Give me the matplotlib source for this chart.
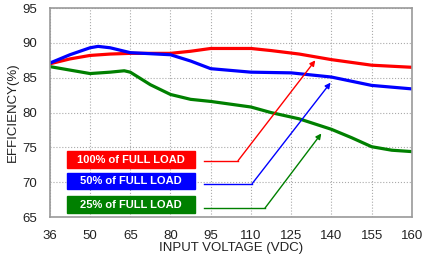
import matplotlib
matplotlib.use('Agg')
import matplotlib.pyplot as plt
from matplotlib.patches import Rectangle

plt.rcParams['font.family'] = ['Liberation Sans', 'DejaVu Sans']

# x axis is categorical: evenly spaced tick labels
x_labels = ['36', '50', '65', '80', '95', '110', '125', '140', '155', '160']

# curves, x given in tick-index units
red_x = [0, 0.5, 1.0, 1.5, 2.0, 3.0, 3.5, 4.0, 5.0, 5.5, 6.2, 7.0, 8.0, 9.0]
red_y = [87.0, 87.7, 88.2, 88.4, 88.5, 88.5, 88.8, 89.2, 89.2, 88.9, 88.4, 87.6, 86.8, 86.5]

blue_x = [0, 0.5, 1.0, 1.2, 1.5, 2.0, 3.0, 3.5, 4.0, 5.0, 6.0, 7.0, 7.5, 8.0, 9.0]
blue_y = [87.1, 88.3, 89.3, 89.5, 89.3, 88.6, 88.3, 87.4, 86.3, 85.8, 85.7, 85.1, 84.5, 83.9, 83.4]

green_x = [0, 0.5, 1.0, 1.5, 1.85, 2.0, 2.5, 3.0, 3.5, 4.0, 5.0, 5.5, 6.2, 7.0, 7.5, 8.0, 8.5, 9.0]
green_y = [86.6, 86.1, 85.6, 85.8, 86.0, 85.8, 84.0, 82.6, 81.9, 81.6, 80.8, 80.0, 79.1, 77.6, 76.4, 75.1, 74.6, 74.4]

labels = ['100% of FULL LOAD', '50% of FULL LOAD', '25% of FULL LOAD']
colors = ['#ff0000', '#0000ff', '#008000']

fig = plt.figure(figsize=(4.22, 2.6), dpi=100)
ax = fig.add_axes([0.118, 0.165, 0.858, 0.804])

ax.plot(red_x, red_y, color=colors[0], lw=2.3, solid_capstyle='round')
ax.plot(blue_x, blue_y, color=colors[1], lw=2.3, solid_capstyle='round')
ax.plot(green_x, green_y, color=colors[2], lw=2.3, solid_capstyle='round')

# label boxes with leader arrows
box_y = [(72.0, 74.5), (69.0, 71.3), (65.6, 68.0)]
line_y = [73.1, 69.8, 66.3]
knee_x = [4.68, 5.03, 5.35]
tips = [(6.6, 87.5), (6.98, 84.3), (6.75, 77.0)]
for i in range(3):
    y0, y1 = box_y[i]
    ax.add_patch(Rectangle((0.43, y0), 3.19, y1 - y0, color=colors[i], zorder=3))
    ax.text(2.02, (y0 + y1) / 2, labels[i], color='white', fontsize=8, fontweight='bold',
            ha='center', va='center', zorder=4)
    ax.plot([3.83, knee_x[i]], [line_y[i], line_y[i]], color=colors[i], lw=1)
    ax.annotate('', xy=tips[i], xytext=(knee_x[i], line_y[i]),
                arrowprops=dict(arrowstyle='-|>', color=colors[i], lw=1,
                                mutation_scale=8, shrinkA=0, shrinkB=0))

ax.set_xlim(0, 9)
ax.set_ylim(65, 95)
ax.set_xticks(range(len(x_labels)))
ax.set_xticklabels(x_labels)
ax.set_yticks([65, 70, 75, 80, 85, 90, 95])
ax.tick_params(length=0, labelsize=9.5, pad=9, labelcolor='#222222')
ax.grid(True, color='#aaaaaa', linestyle=':', lw=0.8)
for s in ax.spines.values():
    s.set_color('#999999')
    s.set_linewidth(1.2)

ax.set_xlabel('INPUT VOLTAGE (VDC)', fontsize=9.5, labelpad=0, color='#222222')
ax.set_ylabel('EFFICIENCY(%)', fontsize=9.5, labelpad=3, color='#222222')

fig.savefig('out.png', dpi=100)
